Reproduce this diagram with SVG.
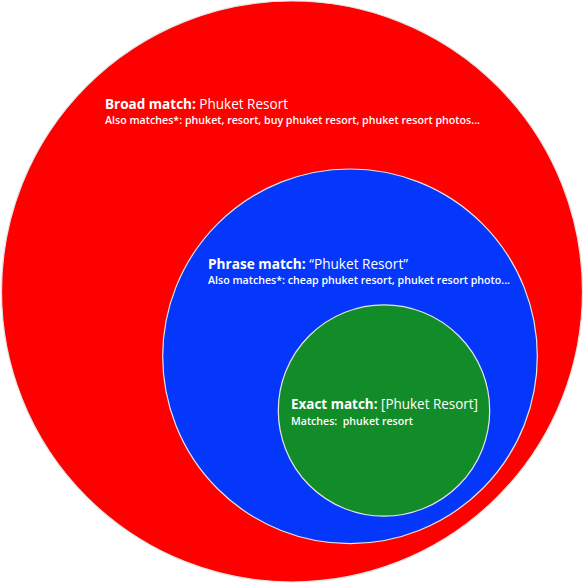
<svg xmlns="http://www.w3.org/2000/svg" width="585" height="585" viewBox="0 0 585 585">
<style>
circle{stroke:#e4e4e4;stroke-width:1.2}
text{font-family:"Open Sans","Noto Sans","Liberation Sans",sans-serif;fill:#ffffff}
.t{font-size:14.5px;font-weight:500}
.s{font-size:11.5px;font-weight:600}
.b{font-weight:bold}
</style>
<rect width="585" height="585" fill="#ffffff"/>
<g id="broad">
<circle cx="292" cy="291.5" r="290.5" fill="#ff0000"/>
<text class="t" x="105" y="108.5" textLength="183" lengthAdjust="spacingAndGlyphs"><tspan class="b">Broad match:</tspan> Phuket Resort</text>
<text class="s" x="105" y="123.5" textLength="375" lengthAdjust="spacingAndGlyphs">Also matches*: phuket, resort, buy phuket resort, phuket resort photos...</text>
</g>
<g id="phrase">
<circle cx="350" cy="356.3" r="187.3" fill="#0437fa"/>
<text class="t" x="208" y="269" textLength="200" lengthAdjust="spacingAndGlyphs"><tspan class="b">Phrase match:</tspan> “Phuket Resort”</text>
<text class="s" x="208" y="284" textLength="302" lengthAdjust="spacingAndGlyphs">Also matches*: cheap phuket resort, phuket resort photo...</text>
</g>
<g id="exact">
<circle cx="384" cy="410.5" r="105.7" fill="#128c28"/>
<text class="t" x="291" y="408.5" textLength="187" lengthAdjust="spacingAndGlyphs"><tspan class="b">Exact match:</tspan> [Phuket Resort]</text>
<text class="s" x="291" y="425" textLength="122" lengthAdjust="spacingAndGlyphs">Matches:&#160; phuket resort</text>
</g>
<g id="connectors"></g>
</svg>
